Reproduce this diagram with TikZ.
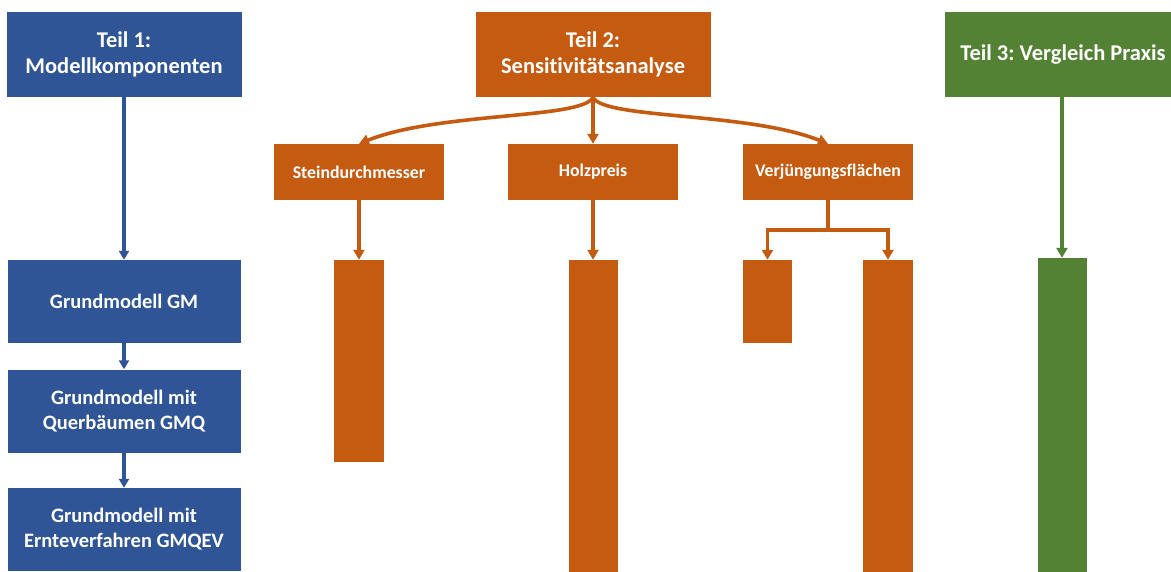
\documentclass[tikz,border=0pt]{standalone}
\usepackage{fontspec}
\setmainfont{Carlito}[Ligatures={NoCommon,NoRequired,NoContextual}]
\usetikzlibrary{arrows.meta}
\definecolor{cblue}{HTML}{2F5597}
\definecolor{corange}{HTML}{C55A11}
\definecolor{cgreen}{HTML}{548235}
\frenchspacing
\begin{document}
\begin{tikzpicture}[x=1pt,y=-1pt,
  box/.style={fill=#1, text=white, inner sep=0pt, align=center},
  title/.style={font=\fontsize{22.5}{26}\selectfont\bfseries, minimum width=235pt, minimum height=85pt},
  sub/.style={font=\fontsize{20.5}{25}\selectfont\bfseries, minimum width=233pt, minimum height=83pt},
  mid/.style={font=\fontsize{17.8}{21}\selectfont\bfseries, minimum width=170pt, minimum height=56pt},
  arr/.style={draw=#1, line width=3.6pt, -{Triangle[width=11pt,length=10pt]}},
  barr/.style={draw=cblue, line width=3.2pt, -{Triangle[width=10pt,length=9pt]}}
]
\useasboundingbox (0,0) rectangle (1171,572);
\clip (0,0) rectangle (1171,572);

% Teil 1
\node[box=cblue, title] (t1) at (124,54.5) {Teil 1:\\Modellkomponenten};
\node[box=cblue, sub] (gm) at (124,301.5) {Grundmodell GM};
\node[box=cblue, sub] (gmq) at (124,411) {Grundmodell mit\\Querbäumen GMQ};
\node[box=cblue, sub] (gmqev) at (124,529.5) {Grundmodell mit\\Ernteverfahren GMQEV};
\draw[barr] (t1.south) -- (gm.north);
\draw[barr] (gm.south) -- (gmq.north);
\draw[barr] (gmq.south) -- (gmqev.north);

% Teil 2
\node[box=corange, title] (t2) at (593,54.5) {Teil 2:\\Sensitivitätsanalyse};
\node[box=corange, mid] (sd) at (359,172) {Steindurchmesser};
\node[box=corange, mid] (hp) at (593,172) {Holzpreis};
\node[box=corange, mid] (vf) at (828,172) {Verjüngungsflächen};
\node[box=corange, minimum width=50pt, minimum height=202pt] (b1) at (359,361) {};
\node[box=corange, minimum width=49pt, minimum height=312pt] (b2) at (593,416) {};
\node[box=corange, minimum width=49pt, minimum height=83pt] (b3) at (767.5,301.5) {};
\node[box=corange, minimum width=50pt, minimum height=312pt] (b4) at (888,416) {};

\draw[arr=corange] (t2.south) .. controls +(-10,22) and +(80,-32) .. (sd.north);
\draw[arr=corange] (t2.south) .. controls +(10,22) and +(-80,-32) .. (vf.north);
\draw[arr=corange] (t2.south) -- (hp.north);
\draw[arr=corange] (sd.south) -- (sd.south |- b1.north);
\draw[arr=corange] (hp.south) -- (hp.south |- b2.north);
\coordinate (fk) at (828,230);
\draw[draw=corange, line width=3.6pt] (vf.south) -- (fk);
\draw[arr=corange] (fk) -| (b3.north);
\draw[arr=corange] (fk) -| (b4.north);

% Teil 3
\node[box=cgreen, title, minimum width=236pt] (t3) at (1063,54.5) {Teil 3: Vergleich Praxis};
\node[box=cgreen, minimum width=49pt, minimum height=314pt] (g1) at (1062,415) {};
\draw[arr=cgreen] (t3.south -| g1.north) -- (g1.north);
\end{tikzpicture}
\end{document}
